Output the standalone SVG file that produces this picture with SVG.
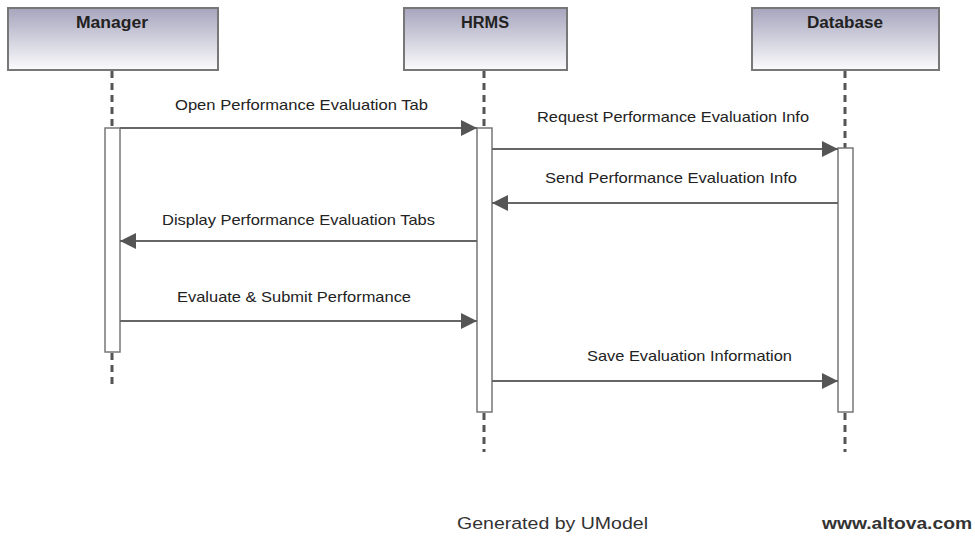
<svg xmlns="http://www.w3.org/2000/svg" width="975" height="537" viewBox="0 0 975 537">
<defs>
<linearGradient id="hdr" x1="0" y1="0" x2="0" y2="1">
<stop offset="0" stop-color="#a6a5bd"/>
<stop offset="1" stop-color="#fbfbfd"/>
</linearGradient>
<marker id="arr" viewBox="0 0 16 16" refX="16" refY="8" markerWidth="16" markerHeight="16" markerUnits="userSpaceOnUse" orient="auto">
<path d="M0,0 L16,8 L0,16 Z" fill="#555"/>
</marker>
<style>
.hdr{fill:url(#hdr);stroke:#777;stroke-width:2}
.title{font-family:"Liberation Sans",Arial,sans-serif;font-weight:bold;font-size:16px;fill:#222;text-anchor:middle}
.life{stroke:#555;stroke-width:3;stroke-dasharray:7 5;fill:none}
.act{fill:#fff;stroke:#777;stroke-width:1.5}
.msg{stroke:#666;stroke-width:2;fill:none;marker-end:url(#arr)}
.lbl{font-family:"Liberation Sans",Arial,sans-serif;font-size:15px;fill:#222}
.foot{font-family:"Liberation Sans",Arial,sans-serif;font-size:16px;fill:#333}
</style>
</defs>
<rect width="975" height="537" fill="#fff"/>

<g id="manager">
<rect class="hdr" x="8" y="8" width="210" height="62"/>
<text class="title" x="112" y="28" textLength="72" lengthAdjust="spacingAndGlyphs">Manager</text>
<line class="life" x1="112" y1="71" x2="112" y2="128"/>
<line class="life" x1="112" y1="353" x2="112" y2="386"/>
<rect class="act" x="105" y="128" width="15" height="224"/>
</g>

<g id="hrms">
<rect class="hdr" x="404" y="8" width="163" height="62"/>
<text class="title" x="485" y="28" textLength="48" lengthAdjust="spacingAndGlyphs">HRMS</text>
<line class="life" x1="484" y1="71" x2="484" y2="128"/>
<line class="life" x1="484" y1="413" x2="484" y2="452"/>
<rect class="act" x="477" y="128" width="15" height="284"/>
</g>

<g id="database">
<rect class="hdr" x="752" y="8" width="187" height="62"/>
<text class="title" x="845" y="28" textLength="76" lengthAdjust="spacingAndGlyphs">Database</text>
<line class="life" x1="845" y1="71" x2="845" y2="148"/>
<line class="life" x1="845" y1="413" x2="845" y2="452"/>
<rect class="act" x="838" y="148" width="15" height="264"/>
</g>

<g id="connectors">
<line class="msg" x1="120" y1="128" x2="477" y2="128"/>
<text class="lbl" x="175" y="110" textLength="253" lengthAdjust="spacingAndGlyphs">Open Performance Evaluation Tab</text>
<line class="msg" x1="492" y1="149" x2="838" y2="149"/>
<text class="lbl" x="537" y="122" textLength="272" lengthAdjust="spacingAndGlyphs">Request Performance Evaluation Info</text>
<line class="msg" x1="838" y1="203" x2="492" y2="203"/>
<text class="lbl" x="545" y="183" textLength="252" lengthAdjust="spacingAndGlyphs">Send Performance Evaluation Info</text>
<line class="msg" x1="477" y1="241" x2="120" y2="241"/>
<text class="lbl" x="162" y="225" textLength="273" lengthAdjust="spacingAndGlyphs">Display Performance Evaluation Tabs</text>
<line class="msg" x1="120" y1="321" x2="477" y2="321"/>
<text class="lbl" x="177" y="302" textLength="234" lengthAdjust="spacingAndGlyphs">Evaluate &amp; Submit Performance</text>
<line class="msg" x1="492" y1="381" x2="838" y2="381"/>
<text class="lbl" x="587" y="361" textLength="205" lengthAdjust="spacingAndGlyphs">Save Evaluation Information</text>
</g>

<text class="foot" x="457" y="529" textLength="191" lengthAdjust="spacingAndGlyphs">Generated by UModel</text>
<text class="foot" x="822" y="529" font-weight="bold" textLength="150" lengthAdjust="spacingAndGlyphs">www.altova.com</text>
</svg>
